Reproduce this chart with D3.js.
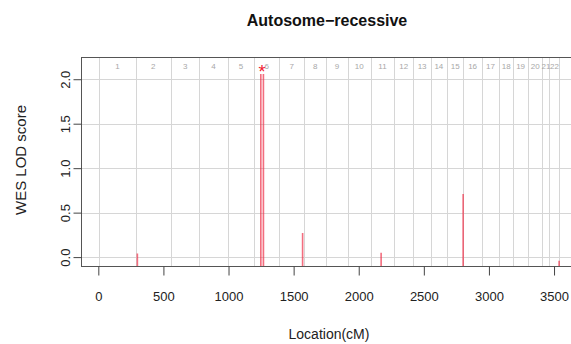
<!DOCTYPE html>
<html><head><meta charset="utf-8">
<script src="https://cdn.jsdelivr.net/npm/d3@7"></script>
<style>body{margin:0;background:#fff}svg{display:block;font-family:"Liberation Sans",Arial,sans-serif}</style>
</head><body><div id="chart"></div>
<script>
// Chromosome boundaries (cM)
const chrBounds = [8, 287, 558, 776, 994, 1198, 1390, 1582, 1749, 1916, 2093, 2272, 2420, 2554, 2677, 2804, 2945, 3078, 3188, 3299, 3411, 3465, 3541];
const chrLabels = ["1","2","3","4","5","6","7","8","9","10","11","12","13","14","15","16","17","18","19","20","21","22"];
// LOD peaks (cM location, LOD score)
const peakPos = [300, 1248, 1268, 1569, 2172, 2802, 3539];
const peakLod = [0.04, 2.06, 2.06, 0.27, 0.05, 0.71, -0.04];
const baseLod = -0.3;
const xTicks = [0, 500, 1000, 1500, 2000, 2500, 3000, 3500];
const yTicks = [0, 0.5, 1.0, 1.5, 2.0];

const W = 571, H = 344;
const L = 81, R = 575, T = 57, B = 266;
const svg = d3.select("#chart").append("svg").attr("width", W).attr("height", H);

const x = d3.scaleLinear().domain([-133, 3661]).range([L, R]);
const y = d3.scaleLinear().domain([-0.1, 2.25]).range([B, T]);

svg.append("defs").append("clipPath").attr("id","clip")
  .append("rect").attr("x", L).attr("y", T).attr("width", R-L).attr("height", B-T);

// grid
const grid = svg.append("g").attr("stroke", "#d6d6d6").attr("stroke-width", 1);
grid.selectAll("line.h").data(yTicks).join("line")
  .attr("x1", L).attr("x2", R).attr("y1", d => Math.round(y(d))+0.5).attr("y2", d => Math.round(y(d))+0.5);
grid.selectAll("line.v").data(chrBounds).join("line")
  .attr("y1", T).attr("y2", B).attr("x1", d => Math.round(x(d))+0.5).attr("x2", d => Math.round(x(d))+0.5);

// chromosome labels
svg.append("g").selectAll("text").data(chrLabels).join("text")
  .attr("x", (d,i) => (x(chrBounds[i]) + x(chrBounds[i+1]))/2)
  .attr("y", 68.5).attr("text-anchor","middle").attr("font-size", 8).attr("fill", "#a8a8a8")
  .text(d => d);

// LOD line
const pts = [];
peakPos.forEach((p,i) => {
  const prev = i>0 ? peakPos[i-1] : -1e9;
  if (p - prev > 5) pts.push([p-0.3, baseLod]);
  pts.push([p, peakLod[i]]);
  const next = i<peakPos.length-1 ? peakPos[i+1] : 1e9;
  if (next - p > 5) pts.push([p+0.3, baseLod]);
});
const line = d3.line().x(d => x(d[0])).y(d => y(d[1]));
svg.append("path").attr("clip-path","url(#clip)")
  .attr("d", line([[chrBounds[0], baseLod], ...pts, [chrBounds[chrBounds.length-1], baseLod]]))
  .attr("fill","none").attr("stroke","#ee3048").attr("stroke-opacity",0.7).attr("stroke-width",1.6);

// star at max
const mi = d3.maxIndex(peakLod);
const starX = (peakPos[mi] + (peakLod[mi+1]===peakLod[mi] ? peakPos[mi+1] : peakPos[mi]))/2;
svg.append("text").attr("x", x(starX)).attr("y", y(peakLod[mi]) + 4)
  .attr("text-anchor","middle").attr("font-size", 18).attr("fill","#f01830").text("*");

// box
svg.append("rect").attr("x", L+0.5).attr("y", T+0.5).attr("width", R-L).attr("height", B-T)
  .attr("fill","none").attr("stroke","#555").attr("stroke-width",1);

// axes
const xa = svg.append("g").attr("transform", `translate(0,${B+0.5})`)
  .call(d3.axisBottom(x).tickValues(xTicks).tickSize(9).tickPadding(16).tickFormat(d3.format("d")));
const ya = svg.append("g").attr("transform", `translate(${L+0.5},0)`)
  .call(d3.axisLeft(y).tickValues(yTicks).tickSize(8).tickFormat(d3.format(".1f")));
[xa, ya].forEach(a => { a.select(".domain").remove(); a.selectAll("line").attr("stroke","#444");
  a.selectAll("text").attr("font-size", 13).attr("fill","#222").attr("font-family","Liberation Sans, Arial, sans-serif"); });
xa.selectAll("text").attr("dy", 0).attr("y", 34);
ya.selectAll("text").attr("transform", "rotate(-90)").attr("x", 0).attr("y", -12)
  .attr("text-anchor","middle").attr("dy", 0);

// titles
svg.append("text").attr("x", 327).attr("y", 26).attr("text-anchor","middle")
  .attr("font-size", 16).attr("font-weight","bold").attr("fill","#111").text("Autosome\u2212recessive");
svg.append("text").attr("x", 329).attr("y", 339).attr("text-anchor","middle")
  .attr("font-size", 14).attr("fill","#222").text("Location(cM)");
svg.append("text").attr("transform","translate(26,160) rotate(-90)").attr("text-anchor","middle")
  .attr("font-size", 15).attr("fill","#222").text("WES LOD score");
</script></body></html>
